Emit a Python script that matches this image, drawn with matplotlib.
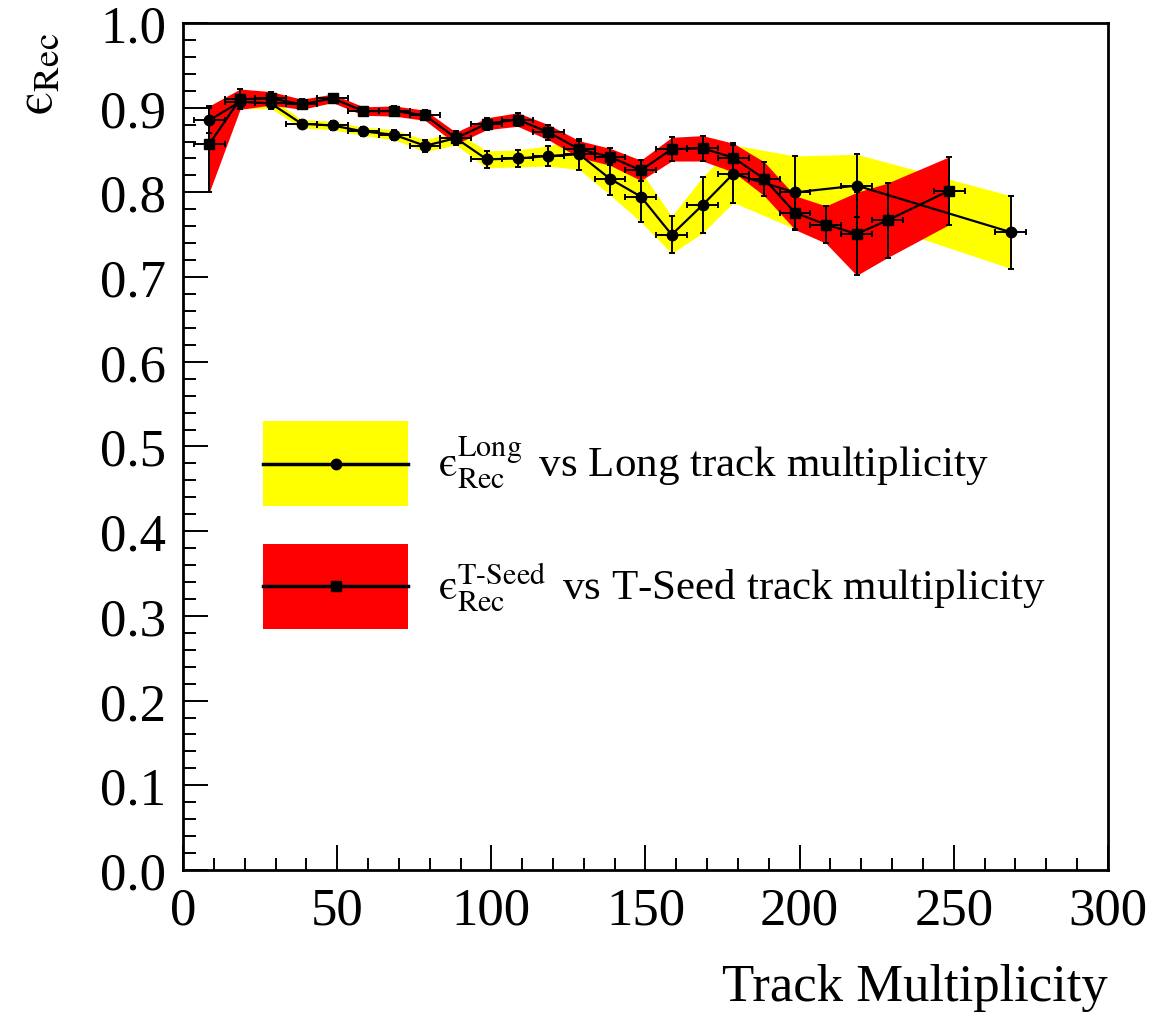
import numpy as np
import matplotlib
matplotlib.use('Agg')
from matplotlib import pyplot as plt
from matplotlib.patches import Patch
from matplotlib.lines import Line2D
from matplotlib.legend_handler import HandlerLine2D
from matplotlib.ticker import MultipleLocator, AutoMinorLocator

plt.rcParams['font.family'] = ['Liberation Serif', 'DejaVu Serif']
plt.rcParams['mathtext.fontset'] = 'stix'

# Long tracks: efficiency vs Long track multiplicity
long_x = [8.5, 18.5, 28.5, 38.5, 48.5, 58.5, 68.5, 78.5, 88.5, 98.5, 108.5,
          118.5, 128.5, 138.5, 148.5, 158.5, 168.5, 178.5, 198.5, 218.5, 268.5]
long_y = [0.885, 0.907, 0.905, 0.881, 0.879, 0.872, 0.868, 0.855, 0.864, 0.839, 0.840,
          0.843, 0.845, 0.816, 0.795, 0.750, 0.785, 0.822, 0.800, 0.808, 0.753]
long_err = [0.015, 0.008, 0.006, 0.005, 0.005, 0.005, 0.006, 0.007, 0.008, 0.010, 0.010,
            0.012, 0.018, 0.019, 0.030, 0.022, 0.033, 0.034, 0.043, 0.037, 0.043]

# T-Seed tracks: efficiency vs T-Seed track multiplicity
tseed_x = [8.5, 18.5, 28.5, 38.5, 48.5, 58.5, 68.5, 78.5, 88.5, 98.5, 108.5, 118.5,
           128.5, 138.5, 148.5, 158.5, 168.5, 178.5, 188.5, 198.5, 208.5, 218.5, 228.5, 248.5]
tseed_y = [0.857, 0.910, 0.911, 0.904, 0.911, 0.896, 0.896, 0.891, 0.864, 0.881, 0.886, 0.871,
           0.851, 0.842, 0.826, 0.851, 0.852, 0.841, 0.816, 0.776, 0.762, 0.751, 0.767, 0.802]
tseed_err_lo = [0.057, 0.012, 0.008, 0.006, 0.005, 0.005, 0.006, 0.006, 0.007, 0.007, 0.008, 0.009,
                0.010, 0.010, 0.012, 0.014, 0.015, 0.017, 0.020, 0.020, 0.022, 0.049, 0.044, 0.040]
tseed_err_hi = [0.045, 0.012, 0.008, 0.006, 0.005, 0.005, 0.006, 0.006, 0.007, 0.007, 0.008, 0.009,
                0.010, 0.010, 0.012, 0.014, 0.015, 0.017, 0.020, 0.020, 0.022, 0.049, 0.044, 0.040]

x_err = 5.0

EPS = '\\mathrm{\u03f5}'
long_label = '$' + EPS + '^{\\mathrm{Long}}_{\\mathrm{Rec}}\\,$ vs Long track multiplicity'
tseed_label = '$' + EPS + '^{\\mathrm{T\\text{-}Seed}}_{\\mathrm{Rec}}\\,$ vs T-Seed track multiplicity'
y_label = '$' + EPS + '_{\\mathrm{Rec}}$'


class CenteredLine(HandlerLine2D):
    # put the legend line through the middle of the coloured box
    def create_artists(self, legend, orig_handle, xdescent, ydescent,
                       width, height, fontsize, trans):
        arts = super().create_artists(legend, orig_handle, xdescent, ydescent,
                                      width, height, fontsize, trans)
        for a in arts:
            a.set_ydata(np.full(len(a.get_xdata()), height / 2 - ydescent))
        return arts


if __name__ == '__main__':
    fig = plt.figure(figsize=(11.54, 10.20), dpi=100)
    ax = fig.add_axes([0.1586, 0.1461, 0.8015, 0.8304])

    lx = np.array(long_x)
    ly = np.array(long_y)
    le = np.array(long_err)
    tx = np.array(tseed_x)
    ty = np.array(tseed_y)
    tlo = np.array(tseed_err_lo)
    thi = np.array(tseed_err_hi)

    ax.fill_between(lx, ly - le, ly + le, color='#ffff00', lw=0, zorder=1)
    ax.fill_between(tx, ty - tlo, ty + thi, color='#ff0000', lw=0, zorder=2)

    ax.errorbar(lx, ly, yerr=le, xerr=x_err, fmt='-o', color='k', ms=7.5,
                lw=1.6, elinewidth=1.4, capsize=2.5, capthick=1.4, zorder=3)
    ax.errorbar(tx, ty, yerr=[tlo, thi], xerr=x_err, fmt='-s', color='k', ms=7.5,
                lw=1.6, elinewidth=1.4, capsize=2.5, capthick=1.4, zorder=4)

    ax.set_xlim(0, 300)
    ax.set_ylim(0, 1.0)
    ax.xaxis.set_major_locator(MultipleLocator(50))
    ax.xaxis.set_minor_locator(MultipleLocator(10))
    ax.yaxis.set_major_locator(MultipleLocator(0.1))
    ax.yaxis.set_minor_locator(AutoMinorLocator(5))
    ax.yaxis.set_major_formatter(matplotlib.ticker.FormatStrFormatter('%.1f'))

    ax.tick_params(which='both', direction='in', top=False, right=False, width=1.4,
                   labelsize=38, pad=12)
    ax.tick_params(which='major', length=18)
    ax.tick_params(which='minor', length=9)
    for s in ax.spines.values():
        s.set_linewidth(2)

    fig.text(0.960, 0.019, 'Track Multiplicity', ha='right', va='baseline', fontsize=38)
    fig.text(0.034, 0.968, y_label, rotation=90, ha='center', va='top', fontsize=38)

    h1 = (Patch(facecolor='#ffff00', edgecolor='none'),
          Line2D([], [], color='k', marker='o', ms=7.5, lw=2.5))
    h2 = (Patch(facecolor='#ff0000', edgecolor='none'),
          Line2D([], [], color='k', marker='s', ms=7.5, lw=2.5))
    ax.legend([h1, h2], [long_label, tseed_label], loc='upper left',
              bbox_to_anchor=(0.0865, 0.530), frameon=False, fontsize=31,
              borderpad=0, borderaxespad=0, handlelength=3.37, handleheight=2.66,
              labelspacing=0.88, handletextpad=0.70,
              handler_map={Line2D: CenteredLine()})

    fig.savefig('out.png', dpi=100)
